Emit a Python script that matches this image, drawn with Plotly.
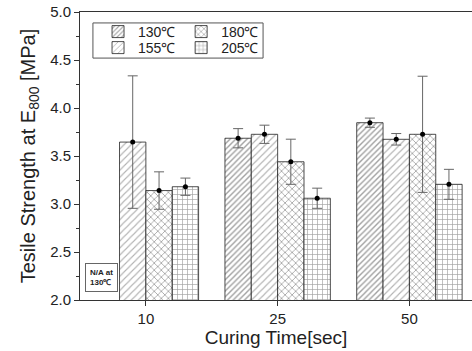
import plotly.graph_objects as go

categories = ["10", "25", "50"]
series_names = ["130℃", "155℃", "180℃", "205℃"]
v130 = [None, 3.685, 3.847]
e130 = [None, 0.10, 0.048]
v155 = [3.645, 3.726, 3.674]
e155 = [0.69, 0.095, 0.06]
v180 = [3.14, 3.44, 3.726]
e180 = [0.195, 0.235, 0.605]
v205 = [3.18, 3.06, 3.205]
e205 = [0.09, 0.105, 0.156]

values = [v130, v155, v180, v205]
errors = [e130, e155, e180, e205]
shapes = ["/", "/", "x", "+"]
pat_sizes = [4, 5, 5, 5]
pat_solid = [0.35, 0.22, 0.3, 0.25]
pat_fg = ["#444", "#666", "#444", "#444"]
legend_ids = ["legend", "legend3", "legend2", "legend4"]

FONT = "Liberation Sans, Arial, sans-serif"

fig = go.Figure()
for i, name in enumerate(series_names):
    fig.add_trace(go.Bar(
        x=categories, y=values[i], name=name,
        offsetgroup=str(i), legend=legend_ids[i],
        marker=dict(color="white", line=dict(color="#222", width=0.8),
                    pattern=dict(shape=shapes[i], size=pat_sizes[i],
                                 solidity=pat_solid[i], fgcolor=pat_fg[i],
                                 bgcolor="white")),
        error_y=dict(type="data", array=errors[i], color="#666",
                     thickness=1, width=5),
    ))
for i, name in enumerate(series_names):
    fig.add_trace(go.Scatter(
        x=categories, y=values[i], mode="markers", offsetgroup=str(i),
        marker=dict(color="black", size=5), showlegend=False,
        hoverinfo="skip",
    ))

fig.add_annotation(
    text="<b>N/A at<br>130℃</b>", xref="paper", yref="paper",
    x=0.013, y=0.028, xanchor="left", yanchor="bottom", showarrow=False,
    font=dict(size=8, family=FONT, color="#222"),
    bordercolor="#666", borderwidth=1, borderpad=4, bgcolor="white",
    align="left",
)

# legend frame
fig.add_shape(type="rect", xref="paper", yref="paper",
              x0=0.033, x1=0.467, y0=0.840, y1=0.962,
              line=dict(color="#555", width=1), fillcolor="white", layer="below")

leg_common = dict(orientation="v", xanchor="left", yanchor="middle",
                  borderwidth=0, bgcolor="rgba(0,0,0,0)",
                  font=dict(size=14, family=FONT), itemwidth=30,
                  tracegroupgap=0)

fig.update_layout(
    width=472, height=351,
    margin=dict(l=80, r=0, t=12, b=51),
    paper_bgcolor="white", plot_bgcolor="white",
    barmode="group", bargap=0.2, bargroupgap=0,
    scattermode="group", scattergap=0.2,
    font=dict(family=FONT, color="#222"),
    showlegend=True,
    legend=dict(x=0.046, y=0.9306, **leg_common),
    legend2=dict(x=0.258, y=0.9306, **leg_common),
    legend3=dict(x=0.046, y=0.875, **leg_common),
    legend4=dict(x=0.258, y=0.875, **leg_common),
    xaxis=dict(
        type="category", range=[-0.5, 2.475],
        showline=True, linecolor="#333", linewidth=1, mirror=True,
        ticks="outside", ticklen=5, tickcolor="#333",
        tickfont=dict(size=15),
        title=dict(text="Curing Time[sec]", font=dict(size=19), standoff=0),
        showgrid=False,
    ),
    yaxis=dict(
        range=[2.0, 5.0], dtick=0.5, tickformat=".1f",
        showline=True, linecolor="#333", linewidth=1,
        ticks="outside", ticklen=5, tickcolor="#333",
        minor=dict(dtick=0.25, ticks="outside", ticklen=3, tickcolor="#333"),
        tickfont=dict(size=15),
        title=dict(text="Tesile Strength at E<sub>800</sub> [MPa]", font=dict(size=20), standoff=9),
        showgrid=False, zeroline=False,
    ),
)

fig.write_html("out.html", config={"displayModeBar": False},
               post_script="document.body.style.margin='0';document.body.style.padding='0';")
